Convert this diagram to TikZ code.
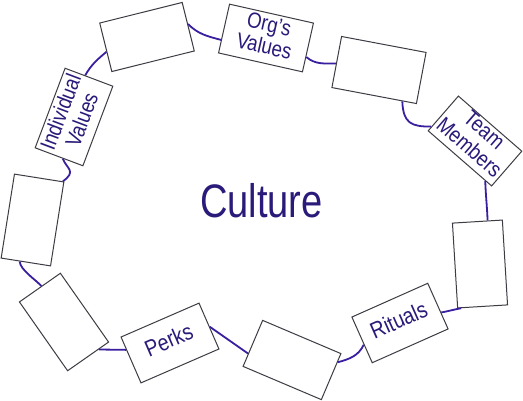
\documentclass[tikz,border=0pt]{standalone}
\usepackage{fontspec}
\setmainfont{Liberation Sans}
\usetikzlibrary{calc}
\definecolor{txt}{HTML}{2A1B7A}
\definecolor{conn}{HTML}{3A1FA0}
\definecolor{edgec}{HTML}{3C3C44}
\newcommand\sqz[1]{\scalebox{0.85}[1]{\begin{tabular}{@{}c@{}}#1\end{tabular}}}
\tikzset{
  box/.style={draw=edgec, line width=1pt, fill=white, minimum width=85pt,
    minimum height=50pt, inner sep=0pt, text=txt,
    font=\fontsize{22}{22.5}\selectfont},
  tall/.style={box, minimum width=50pt, minimum height=85pt},
  link/.style={draw=conn, line width=1.8pt},
}
\begin{document}
\begin{tikzpicture}[x=1pt,y=1pt]
\fill[white] (0,0) rectangle (523,-400);
\useasboundingbox (0,0) rectangle (523,-400);
% boxes
\node[box, rotate=14] (b1) at (147,-37) {};
\node[box, minimum width=86pt, rotate=-12.7] (b2) at (266,-38) {\sqz{Org’s\\Values}};
\node[box, minimum width=86pt, minimum height=52pt, rotate=-10.7] (b3) at (379,-70) {};
\node[box, minimum width=84pt, minimum height=46pt, rotate=-41] (b4) at (475,-141) {\sqz{Team\\Members}};
\node[tall, rotate=3.5] (b5) at (480,-264) {};
\node[box, minimum width=83pt, rotate=24] (b6) at (400,-323) {\sqz{\fontsize{23}{24}\selectfont Rituals}};
\node[box, rotate=-23] (b7) at (292,-360) {};
\node[box, rotate=23.5] (b8) at (170,-343) {\sqz{\fontsize{23}{24}\selectfont Perks}};
\node[tall, minimum height=84pt, rotate=35] (b9) at (64,-322) {};
\node[tall, rotate=-9] (b10) at (32.5,-220) {};
\node[box, minimum height=51pt, rotate=69.4] (b11) at (74,-117) {\sqz{Individual\\Values}};
% centre text
\node[text=txt, font=\fontsize{47}{47}\selectfont, xscale=0.81, transform shape, anchor=base, inner sep=0pt] (c) at (261.5,-217) {Culture};
% connectors
\draw[link] ($(b1.north east)!0.45!(b1.south east)$) to[out=-45,in=165] ($(b2.north west)!0.73!(b2.south west)$);
\draw[link] ($(b2.north east)!0.69!(b2.south east)$) to[out=-40,in=180] ($(b3.north west)!0.53!(b3.south west)$);
\draw[link] ($(b3.south west)!0.83!(b3.south east)$) .. controls +(1,-22) and +(-20,0) .. ($(b4.north west)!0.88!(b4.south west)$);
\draw[link] ($(b4.south west)!0.9!(b4.south east)$) to[out=-88,in=92] ($(b5.north west)!0.7!(b5.north east)$);
\draw[link] ($(b5.south west)!0.08!(b5.south east)$) to[out=190,in=10] ($(b6.north east)!0.64!(b6.south east)$);
\draw[link] ($(b6.north west)!0.6!(b6.south west)$) to[out=-115,in=15] ($(b7.north east)!0.19!(b7.south east)$);
\draw[link] ($(b7.north west)!0.72!(b7.south west)$) -- ($(b8.north east)!0.52!(b8.south east)$);
\draw[link] ($(b8.north west)!0.28!(b8.south west)$) -- ($(b9.south west)!0.75!(b9.south east)$);
\draw[link] ($(b9.north west)!0.54!(b9.north east)$) .. controls +(-4,5) and +(0,-8) .. ($(b10.south west)!0.38!(b10.south east)$);
\draw[link] ($(b10.north west)!0.97!(b10.north east)$) .. controls +(14,10) and +(4,-10) .. ($(b11.north west)!0.58!(b11.south west)$);
\draw[link] ($(b11.north east)!0.42!(b11.south east)$) to[out=60,in=220] ($(b1.north west)!0.59!(b1.south west)$);
\end{tikzpicture}
\end{document}
